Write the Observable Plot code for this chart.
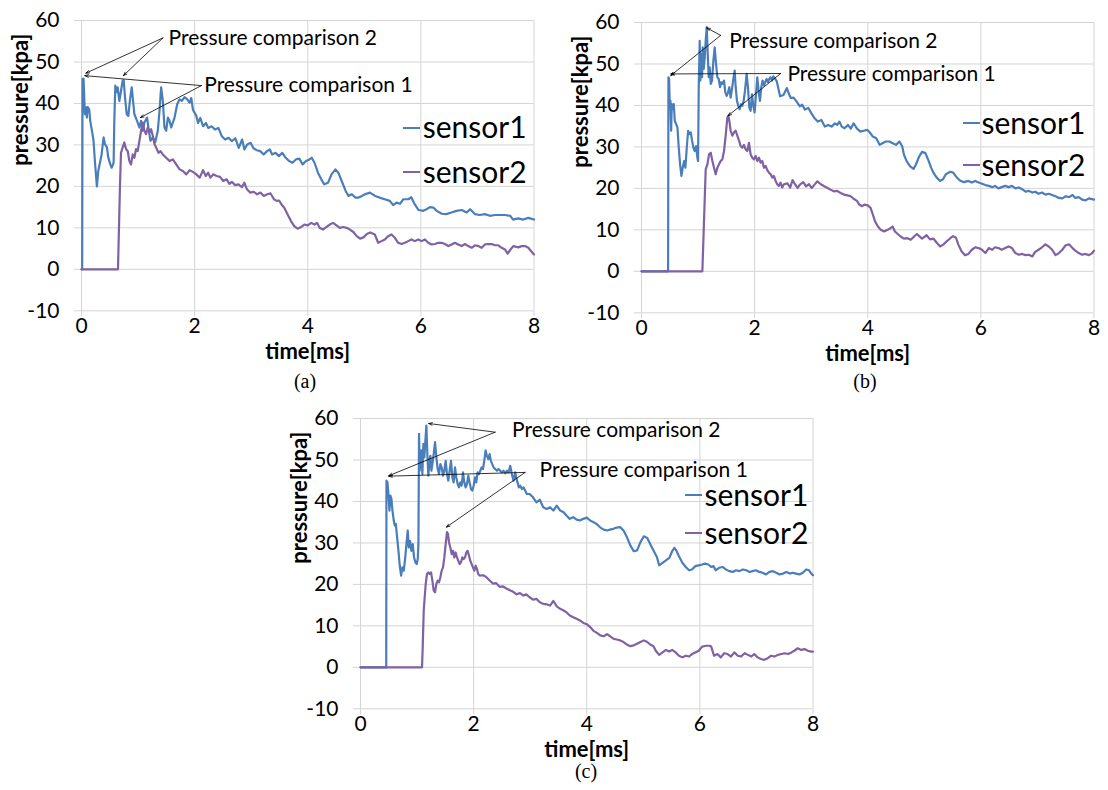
<!DOCTYPE html>
<html><head><meta charset="utf-8">
<script src="https://cdn.jsdelivr.net/npm/d3@7"></script>
<script src="https://cdn.jsdelivr.net/npm/@observablehq/plot@0.6"></script>
<style>
html,body{margin:0;padding:0;background:#fff;overflow:hidden;}
#root{position:relative;width:1108px;height:790px;background:#fff;}
#root svg{position:absolute;background:transparent;}
.swatch{position:absolute;height:2px;width:17px;}
.cap{position:absolute;width:100px;text-align:center;font-family:"Liberation Serif","Times New Roman",serif;font-size:20px;line-height:20px;color:#000;}
</style></head><body><div id="root"></div>
<script>
const xTicks = [0, 2, 4, 6, 8];
const yTicks = [-10, 0, 10, 20, 30, 40, 50, 60];
const seriesNames = ["sensor1", "sensor2"];
const seriesColors = ["#4a7ebb", "#7e62a3"];
const annotationLabels = ["Pressure comparison 2", "Pressure comparison 1"];
const captions = ["(a)", "(b)", "(c)"];

const aSensor1 = [[0,0],[0.012,0],[0.018,45.9],[0.036,46],[0.059,37.4],[0.077,39],[0.095,36.6],[0.107,39.2],[0.136,38.6],[0.154,35.8],[0.195,32.6],[0.213,31],[0.237,26],[0.272,20],[0.296,23.7],[0.331,26],[0.355,27.7],[0.391,31.8],[0.414,30.2],[0.45,29.4],[0.473,27],[0.509,25.3],[0.533,24.5],[0.568,25.7],[0.58,35.8],[0.598,44.3],[0.621,42.7],[0.639,43.9],[0.669,40.6],[0.698,43],[0.728,45.5],[0.746,45.6],[0.769,41.5],[0.799,37.4],[0.828,37],[0.858,41],[0.888,43.9],[0.905,41.5],[0.935,37.4],[0.982,35.8],[1.024,34.2],[1.053,35.8],[1.083,33.4],[1.112,35.4],[1.16,36.6],[1.183,34.2],[1.219,31],[1.26,31.8],[1.302,30.6],[1.349,33.4],[1.379,38.2],[1.408,43.9],[1.438,40.6],[1.467,34.2],[1.497,33.4],[1.527,36.6],[1.556,35.8],[1.586,34.2],[1.645,36.6],[1.692,39.8],[1.734,41],[1.775,40.6],[1.822,41.5],[1.87,41],[1.911,40.2],[1.941,41.3],[1.97,38.5],[2.03,37],[2.06,35.3],[2.1,36.5],[2.15,34.5],[2.2,35.3],[2.24,34.1],[2.3,34.5],[2.36,33.7],[2.42,34.1],[2.48,32.1],[2.54,31.3],[2.6,31.7],[2.66,30.9],[2.72,31.6],[2.78,29.3],[2.84,31.3],[2.88,28.9],[2.93,30.1],[2.99,30.5],[3.04,29.2],[3.1,28.7],[3.16,28.5],[3.22,27.7],[3.28,28.5],[3.33,28.9],[3.37,27.7],[3.43,28.1],[3.49,27.3],[3.55,28.1],[3.61,26.9],[3.67,26.1],[3.73,25.7],[3.79,26.5],[3.85,26.7],[3.91,25.3],[3.97,26.1],[4.03,26.5],[4.07,26.9],[4.12,25.7],[4.18,23.3],[4.24,21.7],[4.29,20.5],[4.36,20.9],[4.42,22.9],[4.49,24.1],[4.54,23.3],[4.6,21.3],[4.67,18.9],[4.72,17.7],[4.78,18.1],[4.84,17.3],[4.9,17.3],[4.96,17.7],[5.01,18.1],[5.1,18.5],[5.19,17.7],[5.27,17.3],[5.36,16.9],[5.45,16.5],[5.51,15.5],[5.57,16.1],[5.63,15.8],[5.69,16.9],[5.78,16.9],[5.83,17.4],[5.89,15.7],[5.96,14.3],[6.04,14.1],[6.1,14.5],[6.16,15],[6.22,14.9],[6.28,14.1],[6.37,13.4],[6.45,13.3],[6.54,13.7],[6.63,14.1],[6.72,14.3],[6.81,13.7],[6.87,14.5],[6.96,13.3],[7.04,13.1],[7.13,13.3],[7.22,12.9],[7.31,13.1],[7.4,13.1],[7.49,13.1],[7.58,12.9],[7.63,12],[7.72,12.3],[7.81,12],[7.9,12.4],[8,12]];
const aSensor2 = [[0,0],[0.645,0],[0.68,20],[0.698,28.1],[0.728,29.4],[0.757,30.6],[0.787,29],[0.817,28.5],[0.846,26.1],[0.876,25.3],[0.905,27.7],[0.935,26.9],[0.964,29],[0.994,28.5],[1.024,31],[1.053,33.4],[1.083,35.4],[1.112,33.4],[1.142,32.6],[1.172,34.2],[1.201,33],[1.231,33.8],[1.26,32.2],[1.29,30.2],[1.331,29],[1.361,28.1],[1.396,28.5],[1.438,27.7],[1.497,26.9],[1.556,26.1],[1.615,26.5],[1.675,25.3],[1.734,24.1],[1.793,23.7],[1.852,22.9],[1.911,23.9],[1.97,23.5],[2.03,22.9],[2.09,22.1],[2.149,23.9],[2.197,22.5],[2.239,23.3],[2.281,22.1],[2.328,22.9],[2.388,22.5],[2.448,22.3],[2.507,21.3],[2.567,21.7],[2.615,20.6],[2.657,21.1],[2.716,20.3],[2.776,20.5],[2.836,19.8],[2.878,20.9],[2.925,19.3],[2.985,18.5],[3.045,18.7],[3.104,18.1],[3.164,18.5],[3.224,17.7],[3.284,18.1],[3.343,18.3],[3.403,16.9],[3.451,16.5],[3.493,16.6],[3.534,15.7],[3.582,14.9],[3.642,13.3],[3.701,11.7],[3.761,10.4],[3.821,9.8],[3.881,10.2],[3.94,10.8],[4,10.6],[4.06,11.2],[4.119,10.8],[4.167,11.2],[4.209,10],[4.269,9.6],[4.328,10.2],[4.388,10.8],[4.448,11.2],[4.507,10.6],[4.567,10],[4.627,10.2],[4.687,10],[4.746,9.6],[4.806,9],[4.866,8],[4.925,7.4],[4.985,7.7],[5.045,8.5],[5.104,8.9],[5.186,8.4],[5.245,6.4],[5.304,6.8],[5.363,7.2],[5.422,8],[5.481,8.4],[5.54,7.6],[5.599,6.4],[5.658,6.1],[5.717,6.4],[5.776,6.8],[5.835,7.2],[5.894,6.8],[5.953,7.2],[6.012,6.8],[6.071,7.2],[6.13,6.4],[6.189,6],[6.248,6.1],[6.307,6.4],[6.366,6.4],[6.425,6.1],[6.484,5.6],[6.543,6],[6.602,6.4],[6.661,6],[6.72,5.6],[6.779,6.1],[6.838,5.6],[6.897,5.2],[6.956,5.8],[7.015,5.6],[7.074,5.2],[7.133,6],[7.192,6.1],[7.251,6.1],[7.31,5.8],[7.369,5.8],[7.428,5.2],[7.487,4.8],[7.534,3.8],[7.575,4.6],[7.634,5.6],[7.723,5.3],[7.782,5.6],[7.841,5.6],[7.9,5.2],[7.947,4.4],[8,3.6]];

const bSensor1 = [[0,0],[0.447,0],[0.47,0],[0.476,46.8],[0.488,46.4],[0.5,39.5],[0.512,41.1],[0.524,33.9],[0.535,40.3],[0.553,39.1],[0.571,40.3],[0.588,36.3],[0.612,35.5],[0.635,34.7],[0.659,29.8],[0.682,25.8],[0.706,23],[0.729,25],[0.753,26.6],[0.776,25],[0.8,29.8],[0.824,33.9],[0.847,33.1],[0.871,33.5],[0.894,31.5],[0.918,29.8],[0.941,29],[0.965,30.2],[0.988,27.4],[1,26.6],[1.012,44.4],[1.029,55.6],[1.041,46],[1.053,52.4],[1.071,46.8],[1.082,54],[1.1,48.8],[1.118,51.6],[1.135,55.6],[1.153,58.9],[1.171,52.4],[1.188,46.8],[1.206,49.2],[1.224,45.2],[1.247,46],[1.271,50.8],[1.294,54],[1.318,50],[1.341,46.8],[1.365,46.4],[1.388,44.4],[1.412,45.6],[1.435,45.2],[1.459,46],[1.482,43.1],[1.506,42.3],[1.529,43.1],[1.553,44.4],[1.576,41.9],[1.6,44],[1.624,46.4],[1.647,48.4],[1.665,44.4],[1.688,41.1],[1.712,39.9],[1.735,39.1],[1.759,40.3],[1.782,39.9],[1.806,41.1],[1.829,43.5],[1.859,47.6],[1.882,44.4],[1.906,39.5],[1.929,38.7],[1.953,42.7],[1.976,39.9],[2,38.3],[2.024,42.7],[2.047,46.8],[2.071,43.5],[2.094,41.1],[2.118,44.4],[2.141,46],[2.165,44.8],[2.188,45.6],[2.212,46.4],[2.235,45.6],[2.259,46.4],[2.282,46.8],[2.306,46],[2.33,47],[2.39,45.9],[2.45,42.2],[2.51,42.5],[2.57,44.2],[2.6,43],[2.64,41.8],[2.69,41.9],[2.74,41],[2.8,39.8],[2.84,40.2],[2.89,39],[2.95,39.4],[3,38.2],[3.06,36.9],[3.12,36.1],[3.18,36.5],[3.24,34.9],[3.3,35.3],[3.36,34.9],[3.42,35.7],[3.46,35.3],[3.5,36.1],[3.54,34.9],[3.59,34.5],[3.65,35.3],[3.7,34.4],[3.75,35.7],[3.81,34.4],[3.87,33.7],[3.93,33.9],[3.99,34.1],[4.03,33.6],[4.09,32.5],[4.15,32.1],[4.21,30.5],[4.26,30.9],[4.32,31.3],[4.38,31.3],[4.44,30.9],[4.5,30.5],[4.56,31.3],[4.61,30.1],[4.64,28.1],[4.69,26.5],[4.75,25.3],[4.81,24.7],[4.85,25.7],[4.91,27.7],[4.96,28.8],[5.02,28.5],[5.08,26.5],[5.12,25],[5.16,23.8],[5.22,22.6],[5.28,21.8],[5.33,22.2],[5.38,23.4],[5.46,24],[5.51,23.8],[5.57,22.7],[5.63,21.9],[5.7,21.5],[5.78,21.8],[5.84,21.4],[5.9,21.8],[5.96,21.4],[6.02,21.1],[6.08,20.8],[6.14,20.6],[6.2,20.3],[6.25,20.6],[6.31,20],[6.37,20.3],[6.43,20.6],[6.49,20.3],[6.55,20.6],[6.61,20],[6.67,20.2],[6.73,19.8],[6.79,19.2],[6.85,19.4],[6.91,19],[6.96,19.2],[7.02,18.7],[7.08,19],[7.14,18.5],[7.2,18.7],[7.26,18.4],[7.32,18.1],[7.38,17.7],[7.44,17.6],[7.5,18.1],[7.56,17.9],[7.62,18.4],[7.67,17.7],[7.73,17.9],[7.79,17.3],[7.85,17.1],[7.91,17.6],[8,17.3]];
const bSensor2 = [[0,0],[1.076,0],[1.1,10],[1.135,24.6],[1.165,25.8],[1.194,28.2],[1.224,28.6],[1.253,26.6],[1.282,25],[1.312,23.4],[1.341,25],[1.371,25.8],[1.4,26.6],[1.429,27],[1.459,29],[1.488,32.7],[1.518,37.1],[1.535,37.5],[1.553,36.3],[1.576,33.9],[1.606,32.7],[1.635,33.5],[1.665,33.9],[1.694,32.7],[1.724,31.5],[1.753,30.2],[1.782,29.8],[1.812,30.5],[1.841,29.4],[1.871,29],[1.9,31],[1.929,28.2],[1.959,27.4],[1.988,27],[2.018,27.8],[2.047,26.6],[2.076,27.4],[2.106,26.2],[2.135,26.6],[2.165,25],[2.194,25.4],[2.224,24.4],[2.253,23.8],[2.282,23.4],[2.312,22.6],[2.341,23],[2.371,21.8],[2.4,21],[2.429,20.6],[2.459,21.4],[2.488,20.2],[2.518,21],[2.58,21.2],[2.63,20.2],[2.67,22],[2.71,21.1],[2.76,20.1],[2.8,20.9],[2.86,21.5],[2.91,20.5],[2.96,21],[3.01,20.1],[3.06,20.9],[3.11,21.7],[3.17,21],[3.23,20.5],[3.29,20.1],[3.34,19.7],[3.4,19.3],[3.46,19.4],[3.52,18.9],[3.58,18.5],[3.64,18.3],[3.7,18.1],[3.75,17.5],[3.81,17],[3.85,16.1],[3.9,15.7],[3.94,16.1],[4,15.9],[4.05,15.3],[4.09,13.7],[4.13,12],[4.18,10.8],[4.23,10],[4.29,9.6],[4.35,10],[4.4,10.4],[4.44,10.8],[4.48,9.6],[4.53,9],[4.58,8.4],[4.64,7.9],[4.7,8],[4.76,7.6],[4.82,8.4],[4.87,9],[4.91,8.5],[4.96,7.9],[5.04,8.7],[5.1,7.7],[5.16,7.9],[5.22,6.9],[5.28,6],[5.34,6.5],[5.4,7.3],[5.47,8.1],[5.51,8.5],[5.56,8.1],[5.6,6.5],[5.66,4.8],[5.72,3.9],[5.78,4.2],[5.84,5.2],[5.9,5.8],[5.96,5.6],[6.02,5.2],[6.08,4.4],[6.14,5.6],[6.2,5.2],[6.25,5.8],[6.31,5.6],[6.37,5.2],[6.43,5.6],[6.49,6],[6.55,5.6],[6.61,4.4],[6.67,4],[6.73,4.2],[6.79,3.9],[6.85,4],[6.91,3.6],[6.96,4.7],[7.02,5.2],[7.08,5.8],[7.14,6.5],[7.2,6],[7.26,5.2],[7.32,3.9],[7.38,4.4],[7.44,5.2],[7.5,6.3],[7.56,6.5],[7.62,5.6],[7.67,5],[7.73,4.4],[7.79,4],[7.85,4.2],[7.91,3.9],[7.97,4.4],[8,5]];

const cSensor1 = [[0,0],[0.447,0],[0.455,0],[0.459,45],[0.476,44.6],[0.494,41.8],[0.512,37.8],[0.529,41.4],[0.547,40.6],[0.565,37.8],[0.588,35.4],[0.606,34.2],[0.624,34.6],[0.647,31.4],[0.671,28.1],[0.694,24.5],[0.718,22.1],[0.741,24.1],[0.765,23.3],[0.788,26.1],[0.812,29.7],[0.835,33],[0.853,28.9],[0.876,30.5],[0.9,28.1],[0.924,29.7],[0.947,26.5],[0.971,25.3],[0.994,24.9],[1.012,26.1],[1.024,29.7],[1.035,56.3],[1.047,47.4],[1.059,50.6],[1.076,52.3],[1.094,46.6],[1.112,53.9],[1.129,50.6],[1.147,54.7],[1.165,58.3],[1.182,51.4],[1.2,46.2],[1.218,49.8],[1.235,51],[1.253,47.4],[1.271,49],[1.294,51.4],[1.318,54.3],[1.341,50.6],[1.365,47.8],[1.388,46.6],[1.412,49],[1.435,48.2],[1.459,46.2],[1.482,47.4],[1.506,49.8],[1.529,46.6],[1.553,45],[1.576,47.4],[1.6,49.8],[1.624,45.8],[1.647,44.6],[1.671,48.2],[1.694,45.8],[1.718,44.2],[1.741,43.4],[1.765,44.6],[1.788,43.8],[1.812,47],[1.835,44.6],[1.859,43.4],[1.882,44.2],[1.906,46.2],[1.929,44.6],[1.953,43],[1.976,42.6],[2,43.8],[2.024,45.8],[2.047,44.6],[2.071,47],[2.094,46.6],[2.118,47.4],[2.141,48.2],[2.165,47.8],[2.188,49.8],[2.212,52.3],[2.235,51],[2.259,50.2],[2.282,51.4],[2.306,49.8],[2.329,49],[2.353,48.2],[2.382,47.8],[2.412,47.4],[2.441,47.8],[2.471,47.4],[2.5,47],[2.529,47.4],[2.559,46.8],[2.588,47.4],[2.618,47],[2.647,48.6],[2.676,46.6],[2.706,45],[2.735,47],[2.753,45.8],[2.776,44.6],[2.8,43.4],[2.824,43.8],[2.853,43],[2.882,43.4],[2.912,42.6],[2.941,41.8],[2.99,41.8],[3.05,41],[3.11,39.8],[3.17,40.4],[3.23,38.6],[3.29,38.2],[3.35,38.6],[3.41,37.8],[3.47,39],[3.53,37.8],[3.59,37.4],[3.64,36.6],[3.7,35.8],[3.76,36.2],[3.82,35.6],[3.88,35.4],[3.94,35.8],[4,36.1],[4.06,35.4],[4.12,35],[4.18,34.5],[4.24,33.7],[4.3,33.2],[4.36,33],[4.41,33.2],[4.47,33.4],[4.53,33.7],[4.59,33.8],[4.65,33],[4.71,31.4],[4.77,29.4],[4.83,28],[4.89,28.2],[4.95,30.2],[5.01,31.6],[5.07,31.2],[5.12,29.8],[5.18,28.2],[5.24,26.6],[5.28,24.6],[5.34,25.2],[5.4,25.8],[5.46,26.4],[5.51,28],[5.55,28.8],[5.59,28],[5.63,26.8],[5.69,25.2],[5.75,24.2],[5.81,23.4],[5.86,23.6],[5.92,24.4],[5.98,24.6],[6.04,24.8],[6.09,25],[6.15,24.8],[6.2,24.2],[6.24,24.4],[6.28,23.4],[6.34,24],[6.4,24.2],[6.46,23.6],[6.52,23.2],[6.58,23],[6.64,23.4],[6.7,23.2],[6.76,23.6],[6.82,23.4],[6.88,23],[6.93,23.2],[6.99,23.4],[7.05,23],[7.11,22.8],[7.17,22.4],[7.23,23],[7.29,23.2],[7.35,22.8],[7.41,22.4],[7.47,22.6],[7.53,23],[7.59,22.6],[7.64,22.8],[7.7,22.6],[7.76,22.4],[7.82,22.8],[7.88,23.6],[7.93,23.4],[7.97,22.6],[8,22.2]];
const cSensor2 = [[0,0],[1.088,0],[1.1,5],[1.118,13.7],[1.135,16.9],[1.153,20.1],[1.176,22.5],[1.2,22.9],[1.224,22.5],[1.247,22.9],[1.271,20.9],[1.294,18.5],[1.318,18.1],[1.341,20.1],[1.365,20.9],[1.388,20.5],[1.412,21.7],[1.435,23.3],[1.459,24.1],[1.482,26.5],[1.506,29.7],[1.529,32.6],[1.547,32.2],[1.565,30.1],[1.588,28.9],[1.612,27.3],[1.635,28.1],[1.659,26.5],[1.682,27.7],[1.706,26.5],[1.729,25.7],[1.753,24.9],[1.776,25.3],[1.8,26.5],[1.824,26.1],[1.847,26.5],[1.871,27.7],[1.894,28.1],[1.918,26.9],[1.941,25.7],[1.965,24.9],[1.988,24.1],[2.012,23.3],[2.035,24.5],[2.059,23.7],[2.082,22.5],[2.106,22.1],[2.17,22.2],[2.22,21.8],[2.28,21],[2.34,20.2],[2.4,20.3],[2.46,19.4],[2.52,19.5],[2.58,19],[2.64,18.6],[2.7,18.2],[2.76,17.6],[2.82,17.9],[2.88,17.3],[2.93,17.6],[2.99,16.9],[3.05,16.3],[3.11,16.5],[3.17,15.7],[3.23,15.3],[3.29,15.2],[3.35,14.9],[3.41,16],[3.47,14.7],[3.53,14.1],[3.59,13.7],[3.64,13.3],[3.7,12.5],[3.76,12.1],[3.82,11.7],[3.88,11.3],[3.94,10.7],[4,10.4],[4.06,9.7],[4.12,8.8],[4.18,8.3],[4.24,7.7],[4.3,7.5],[4.36,8],[4.41,7.5],[4.47,6.9],[4.53,6.7],[4.59,6.5],[4.65,6.1],[4.71,5.5],[4.77,5.1],[4.83,5.3],[4.89,5.7],[4.95,6.1],[5.01,6.5],[5.07,6.1],[5.12,5.5],[5.18,5.1],[5.22,4],[5.28,3],[5.34,3.6],[5.4,4.2],[5.46,3.8],[5.51,4.2],[5.57,3.6],[5.63,2.8],[5.69,2.4],[5.75,2.8],[5.81,2.6],[5.86,3.2],[5.92,3.6],[5.98,4],[6.04,5],[6.11,5.2],[6.17,5.2],[6.2,5],[6.25,2.8],[6.31,3.2],[6.37,2.4],[6.43,3.4],[6.49,3.2],[6.55,2.6],[6.61,3.6],[6.67,2.8],[6.73,2.6],[6.79,3.4],[6.85,3],[6.91,2.6],[6.96,3.2],[7.02,2.4],[7.08,2],[7.14,1.8],[7.2,2.2],[7.26,2.8],[7.32,2.6],[7.38,3],[7.44,3.2],[7.5,3.4],[7.56,3.2],[7.62,3.6],[7.67,4],[7.73,4.6],[7.79,4.2],[7.85,4.4],[7.91,4],[7.97,3.8],[8,3.8]];

// annotation text anchors [time, pressure] for "comparison 2", "comparison 1"
const aLabelPos = [[1.54, 55.6], [2.17, 44.3]];
const bLabelPos = [[1.55, 55.5], [2.58, 47.6]];
const cLabelPos = [[2.68, 57.1], [3.165, 47.4]];
// arrows [fromTime, fromPressure, toTime, toPressure]
const aArrows = [[1.44,55.8,0.077,47.3],[1.44,55.8,0.74,46.7],[2.12,44.3,0.059,46.7],[2.12,44.3,1.04,36.6]];
const bArrows = [[1.4,56.9,1.153,58.7],[1.4,56.9,0.518,47.2],[2.46,47.7,0.518,47.6],[2.46,47.7,1.529,37.5]];
const cArrows = [[2.38,56.7,1.206,58.8],[2.38,56.7,0.5,46.2],[2.91,47,0.5,46.1],[2.91,47,1.518,33.8]];

const panels = [
  {s1: aSensor1, s2: aSensor2, labels: aLabelPos, arrows: aArrows, left: 0.5, top: -0.5, mr: 16,
   legDx: 341.2, legBase: [117.8, 162.2], swX: 322.2, swY: [108.8, 152.2], capX: 305, capBase: 388},
  {s1: bSensor1, s2: bSensor2, labels: bLabelPos, arrows: bArrows, left: 561, top: 1.8, mr: 12,
   legDx: 340, legBase: [111.5, 153.2], swX: 321.7, swY: [101.5, 143.2], capX: 865, capBase: 388},
  {s1: cSensor1, s2: cSensor2, labels: cLabelPos, arrows: cArrows, left: 280, top: 397.5, mr: 16,
   legDx: 344, legBase: [87.5, 125.5], swX: 325, swY: [77.5, 115.5], capX: 586, capBase: 778}
];

const ML = 80, MT = 20, IW = 452.5, IH = 290.3, MB = 62;
const grid = "#d4d4d4";
const root = document.getElementById("root");
const fmt = d => String(d);

panels.forEach((p, k) => {
  const svg = Plot.plot({
    width: ML + IW + p.mr,
    height: MT + IH + MB,
    marginLeft: ML, marginRight: p.mr, marginTop: MT, marginBottom: MB,
    x: {domain: [0, 8]},
    y: {domain: [-10, 60]},
    style: {fontFamily: "Lato, 'Open Sans', sans-serif", color: "#000", background: "transparent", overflow: "visible"},
    marks: [
      Plot.gridX(xTicks, {stroke: grid, strokeOpacity: 1, strokeWidth: 1}),
      Plot.gridY(yTicks, {stroke: grid, strokeOpacity: 1, strokeWidth: 1}),
      Plot.axisX(xTicks, {tickSize: 6, tickPadding: 1, stroke: grid, fontSize: 21, tickFormat: fmt, label: null}),
      Plot.axisY(yTicks, {tickSize: 7, tickPadding: 15, stroke: grid, fontSize: 21, tickFormat: fmt, label: null}),
      Plot.line(p.s1, {x: d => d[0], y: d => d[1], stroke: seriesColors[0], strokeWidth: 2.2}),
      Plot.line(p.s2, {x: d => d[0], y: d => d[1], stroke: seriesColors[1], strokeWidth: 2.2}),
      Plot.arrow(p.arrows, {x1: d => d[0], y1: d => d[1], x2: d => d[2], y2: d => d[3],
        stroke: "#000", strokeWidth: 0.8, headLength: 7, headAngle: 40}),
      Plot.text(annotationLabels, {x: (d, i) => p.labels[i][0], y: (d, i) => p.labels[i][1], text: d => d,
        textAnchor: "start", lineAnchor: "middle", fontSize: 21, fill: "#000"}),
      Plot.text(["time[ms]"], {frameAnchor: "bottom", dy: 41, lineAnchor: "middle", fontWeight: "bold", fontSize: 22, fill: "#000"}),
      Plot.text(["pressure[kpa]"], {frameAnchor: "left", rotate: -90, dx: -61, lineAnchor: "middle", fontWeight: "bold", fontSize: 22, fill: "#000"}),
      Plot.text([seriesNames[0]], {frameAnchor: "top-left", dx: p.legDx, dy: p.legBase[0], textAnchor: "start", lineAnchor: "bottom", fontSize: 30, fill: "#000"}),
      Plot.text([seriesNames[1]], {frameAnchor: "top-left", dx: p.legDx, dy: p.legBase[1], textAnchor: "start", lineAnchor: "bottom", fontSize: 30, fill: "#000"})
    ]
  });
  svg.style.left = p.left + "px";
  svg.style.top = p.top + "px";
  root.appendChild(svg);

  const fx = p.left + ML, fy = p.top + MT;
  p.swY.forEach((yy, j) => {
    const sw = document.createElement("div");
    sw.className = "swatch";
    sw.style.left = (fx + p.swX) + "px";
    sw.style.top = (fy + yy - 1) + "px";
    sw.style.background = seriesColors[j];
    root.appendChild(sw);
  });

  const cap = document.createElement("div");
  cap.className = "cap";
  cap.textContent = captions[k];
  cap.style.left = (p.capX - 50) + "px";
  cap.style.top = (p.capBase - 17) + "px";
  root.appendChild(cap);
});
</script>
</body></html>
